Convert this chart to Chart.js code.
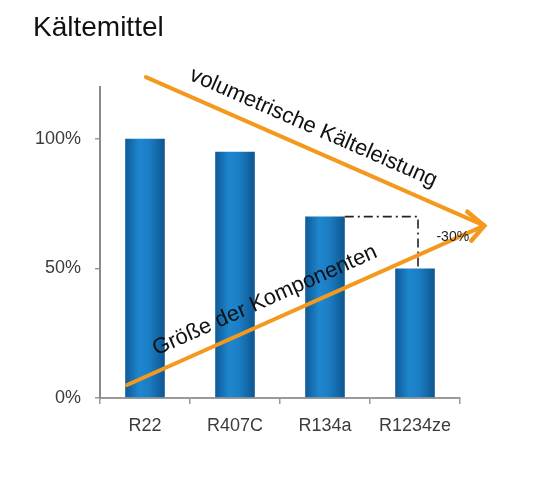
<!DOCTYPE html>
<html>
<head>
<meta charset="utf-8">
<script src="https://cdn.jsdelivr.net/npm/chart.js@4/dist/chart.umd.min.js"></script>
<style>
  html, body { margin: 0; padding: 0; background: #fff; }
  #wrap { width: 540px; height: 486px; }
</style>
</head>
<body>
<div id="wrap"><canvas id="kaelte" width="540" height="486"></canvas></div>
<script>
const categories = ["R22", "R407C", "R134a", "R1234ze"];
const capacity = [100, 95, 70, 50];
const yTicks = [0, 50, 100];
const yMax = 120;
const reductionLabel = "-30%";
const upperArrowLabel = "volumetrische Kälteleistung";
const lowerArrowLabel = "Größe der Komponenten";

const ORANGE = "#f39a1e";
const FONT = "'Liberation Sans', Arial, sans-serif";

// horizontal gradient for each bar, dark edges, lighter middle
function barFill(ctx) {
  const chart = ctx.chart;
  const x = chart.scales.x;
  if (!chart.chartArea || !x) return "#1a72b8";
  const cx = x.getPixelForValue(ctx.dataIndex);
  const w = (x.width / categories.length) * 0.44;
  const g = chart.ctx.createLinearGradient(cx - w / 2, 0, cx + w / 2, 0);
  g.addColorStop(0, "#0e5a98");
  g.addColorStop(0.35, "#1f86cd");
  g.addColorStop(0.6, "#1b7ec4");
  g.addColorStop(1, "#0d5690");
  return g;
}

function arrowPx(chart, pt) {
  return [chart.scales.x.getPixelForValue(pt[0]), chart.scales.y.getPixelForValue(pt[1])];
}

function textAlong(ctx, text, a, b, frac, offset, size) {
  const ang = Math.atan2(b[1] - a[1], b[0] - a[0]);
  const mx = a[0] + (b[0] - a[0]) * frac;
  const my = a[1] + (b[1] - a[1]) * frac;
  ctx.save();
  ctx.translate(mx + Math.sin(ang) * offset, my - Math.cos(ang) * offset);
  ctx.rotate(ang);
  ctx.font = size + "px " + FONT;
  ctx.fillStyle = "#111";
  ctx.textAlign = "center";
  ctx.textBaseline = "middle";
  ctx.fillText(text, 0, 0);
  ctx.restore();
}

const decorations = {
  id: "decorations",
  afterDatasetsDraw(chart) {
    const ctx = chart.ctx;
    const x = chart.scales.x, y = chart.scales.y;

    // title
    ctx.save();
    ctx.font = "28px " + FONT;
    ctx.fillStyle = "#111";
    ctx.textBaseline = "alphabetic";
    ctx.fillText("Kältemittel", 33, 36);
    ctx.restore();

    // dash-dot reduction marker from R134a to R1234ze
    const barHalf = (x.width / categories.length) * 0.22;
    const yFrom = y.getPixelForValue(capacity[2]);
    const yTo = y.getPixelForValue(capacity[3]);
    const xStart = x.getPixelForValue(2) + barHalf;
    const xEnd = x.getPixelForValue(3) + 3;
    ctx.save();
    ctx.strokeStyle = "#222";
    ctx.lineWidth = 1.6;
    ctx.setLineDash([9, 4, 2, 4]);
    ctx.beginPath();
    ctx.moveTo(xStart, yFrom);
    ctx.lineTo(xEnd, yFrom);
    ctx.lineTo(xEnd, yTo);
    ctx.stroke();
    ctx.restore();

    // arrows
    const tip = arrowPx(chart, [3.77, 66.5]);
    const up0 = arrowPx(chart, [0.01, 123.8]);
    const lo0 = arrowPx(chart, [-0.2, 5]);
    ctx.save();
    ctx.strokeStyle = ORANGE;
    ctx.lineWidth = 4;
    ctx.lineCap = "round";
    ctx.beginPath();
    ctx.moveTo(up0[0], up0[1]);
    ctx.lineTo(tip[0], tip[1]);
    ctx.moveTo(lo0[0], lo0[1]);
    ctx.lineTo(tip[0], tip[1]);
    ctx.stroke();
    // open arrow head
    ctx.lineWidth = 4.5;
    ctx.lineJoin = "miter";
    ctx.beginPath();
    ctx.moveTo(tip[0] - 17, tip[1] - 14);
    ctx.lineTo(tip[0], tip[1]);
    ctx.lineTo(tip[0] - 13, tip[1] + 15);
    ctx.stroke();
    ctx.restore();

    textAlong(ctx, upperArrowLabel, up0, tip, 0.47, 21, 22);
    textAlong(ctx, lowerArrowLabel, lo0, tip, 0.41, 21, 22);

    // -30% label
    ctx.save();
    ctx.font = "14px " + FONT;
    ctx.fillStyle = "#222";
    ctx.textAlign = "center";
    ctx.textBaseline = "middle";
    ctx.fillText(reductionLabel, x.getPixelForValue(3.42), y.getPixelForValue(62));
    ctx.restore();
  }
};

new Chart(document.getElementById("kaelte").getContext("2d"), {
  type: "bar",
  data: {
    labels: categories,
    datasets: [{
      data: capacity,
      backgroundColor: barFill,
      borderWidth: 0,
      barPercentage: 0.44,
      categoryPercentage: 1
    }]
  },
  options: {
    responsive: false,
    animation: false,
    layout: { padding: { left: 0, right: 80, top: 87, bottom: 30 } },
    plugins: { legend: { display: false }, tooltip: { enabled: false } },
    scales: {
      x: {
        grid: { drawOnChartArea: false, offset: true, color: "#9a9a9a", lineWidth: 1.5, tickLength: 6 },
        border: { color: "#9a9a9a", width: 2 },
        ticks: { color: "#3c3c3c", font: { family: FONT, size: 18 }, padding: 11 },
        afterFit(s) { s.height = 58; }
      },
      y: {
        min: 0,
        max: yMax,
        afterBuildTicks(s) { s.ticks = yTicks.map(v => ({ value: v })); },
        grid: { drawOnChartArea: false, color: "#9a9a9a", lineWidth: 1.5, tickLength: 5 },
        border: { color: "#8a8a8a", width: 2 },
        ticks: { color: "#3c3c3c", font: { family: FONT, size: 18 }, padding: 14, callback: v => v + "%" },
        afterFit(s) { s.width = 100; }
      }
    }
  },
  plugins: [decorations]
});
</script>
</body>
</html>
